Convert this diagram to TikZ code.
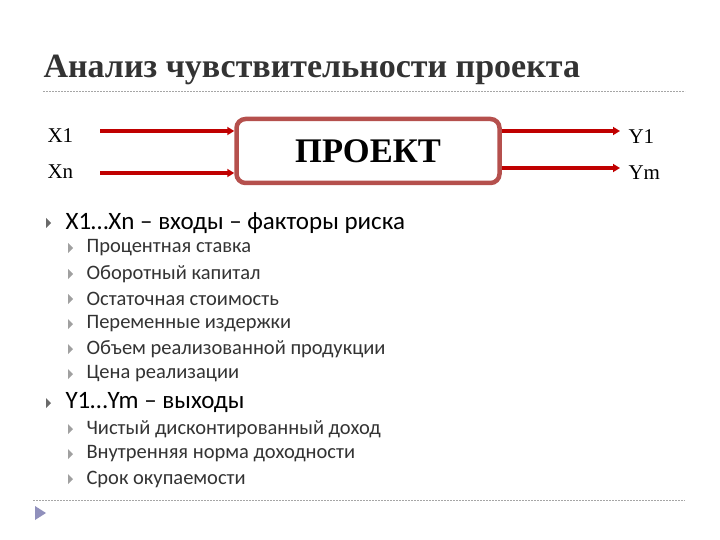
\documentclass[tikz,border=0pt]{standalone}
\usepackage{fontspec}
\setmainfont{Carlito}
\newfontfamily\serifb{Liberation Serif}
\usetikzlibrary{arrows.meta}
\definecolor{arr}{HTML}{C00000}
\definecolor{boxc}{HTML}{B5504D}
\definecolor{bul}{HTML}{6A6A6A}
\definecolor{bultwo}{HTML}{A0A0A0}
\tikzset{
  conn/.style={arr, line width=3.5pt, -{Triangle[length=7pt,width=8pt]}},
  lbl/.style={anchor=west, font=\serifb\fontsize{21}{23}\selectfont},
  lvone/.style={anchor=west, font=\fontsize{25}{28}\selectfont, text=black},
  lvtwo/.style={anchor=west, font=\fontsize{20.5}{23}\selectfont, text=black!80},
  triA/.style={fill=bul},
  triB/.style={fill=bultwo},
}
\begin{document}
\begin{tikzpicture}[x=1pt,y=-1pt]
\useasboundingbox (0,0) rectangle (720,540);
\node[anchor=west, font=\serifb\bfseries\fontsize{34}{36}\selectfont, text=black!80] (title) at (40,70) {Анализ чувствительности проекта};
\draw[gray!70, dashed, dash pattern=on 2pt off 1pt] (43,91) -- (685,91);
\node[draw=boxc, line width=4.5pt, rounded corners=9pt, minimum width=263pt, minimum height=64pt, font=\serifb\bfseries\fontsize{34.5}{36}\selectfont] (p) at (368,151) {ПРОЕКТ};
\node[lbl] (x1) at (44,136) {X1};
\node[lbl] (xn) at (44,172) {Xn};
\node[lbl] (y1) at (625,137) {Y1};
\node[lbl] (ym) at (625,173) {Ym};
\coordinate (a1) at (100,131); \coordinate (an) at (100,173);
\coordinate (b1) at (620,131); \coordinate (bm) at (620,168);
\draw[conn] (a1) -- (a1 -| p.west);
\draw[conn] (an) -- (an -| p.west);
\draw[conn] (b1 -| p.east) -- (b1);
\draw[conn] (bm -| p.east) -- (bm);
\foreach \y/\t in {223/{X1…Xn – входы – факторы риска},403/{Y1…Ym – выходы}}{
  \fill[triA] (46,\y-5) -- (51,\y) -- (46,\y+5) -- cycle;
  \node[lvone] at (62,\y) {\t};
}
\foreach \y/\t in {248/Процентная ставка,274/Оборотный капитал,299/Остаточная стоимость,324/Переменные издержки,349/Объем реализованной продукции,374/Цена реализации,429/Чистый дисконтированный доход,454/Внутренняя норма доходности,479/Срок окупаемости}{
  \fill[triB] (68,\y-5) -- (73,\y) -- (68,\y+5) -- cycle;
  \node[lvtwo] at (83,\y) {\t};
}
\draw[gray!70, dashed, dash pattern=on 2pt off 1pt] (33,500) -- (685,500);
\fill[blue!25!gray!70] (35,506) -- (46,513) -- (35,520) -- cycle;
\end{tikzpicture}
\end{document}
